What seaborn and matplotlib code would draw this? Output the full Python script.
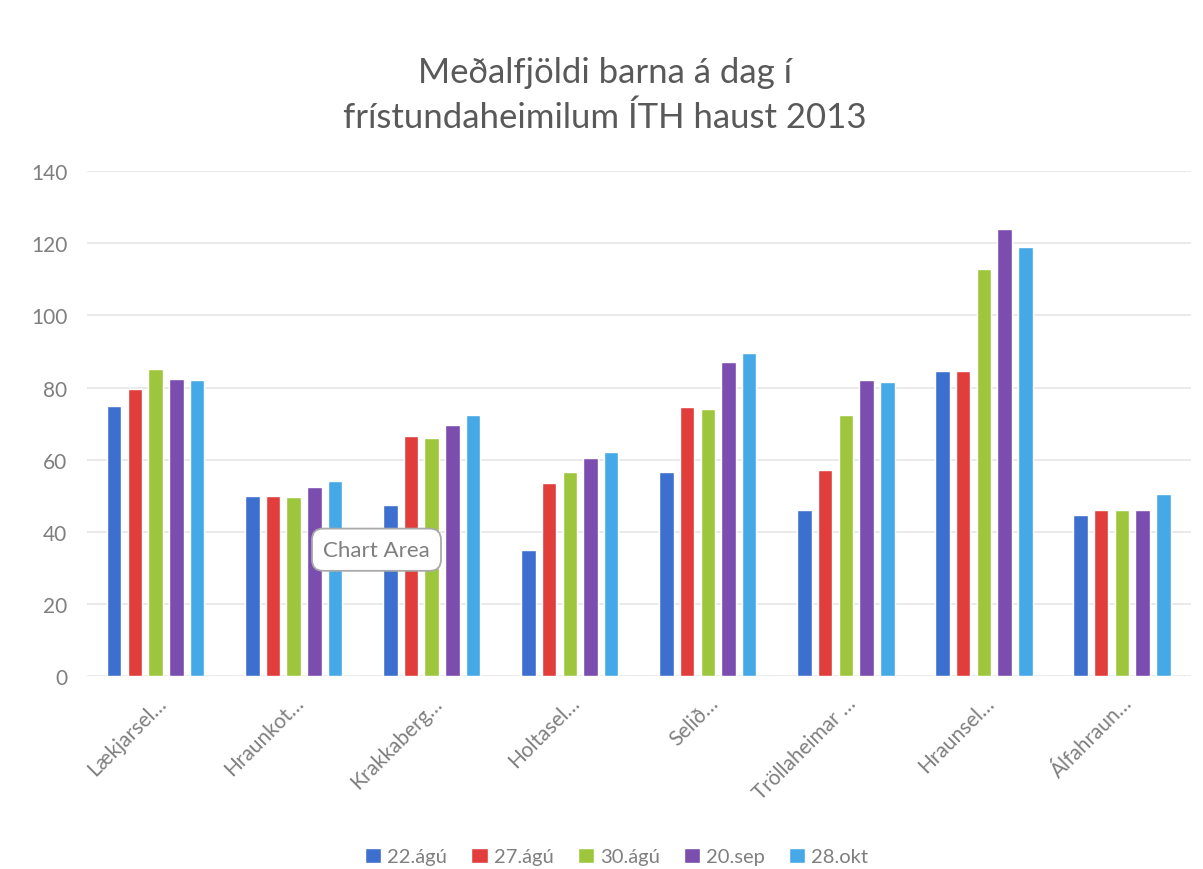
import pandas as pd
import matplotlib.pyplot as plt
import seaborn as sns

# ------------------------------
# DATA
# ------------------------------
stadir = ["Lækjarsel…", "Hraunkot…", "Krakkaberg…", "Holtasel…",
          "Selið…", "Tröllaheimar …", "Hraunsel…", "Álfahraun…"]
dagar = ["22.ágú", "27.ágú", "30.ágú", "20.sep", "28.okt"]

d_22agu = [75, 50, 47.5, 35, 56.5, 46, 84.5, 44.5]
d_27agu = [79.5, 50, 66.5, 53.5, 74.5, 57, 84.5, 46]
d_30agu = [85, 49.5, 66, 56.5, 74, 72.5, 113, 46]
d_20sep = [82.5, 52.5, 69.5, 60.5, 87, 82, 124, 46]
d_28okt = [82, 54, 72.5, 62, 89.5, 81.5, 119, 50.5]

litir = ["#3D6FCE", "#E03D3B", "#9DC63D", "#7B4DAF", "#45A9E7"]

df = pd.DataFrame({"stadur": stadir * 5,
                   "dagur": [d for d in dagar for _ in stadir],
                   "fjoldi": d_22agu + d_27agu + d_30agu + d_20sep + d_28okt})

# ------------------------------
# STYLE
# ------------------------------
sns.set_style("white")
plt.rcParams["font.family"] = ["Lato", "DejaVu Sans"]
grar = "#7F7F7F"

fig = plt.figure(figsize=(12.03, 8.7), dpi=100)
ax = fig.add_axes([0.072, 0.222, 0.918, 0.58])

sns.barplot(data=df, x="stadur", y="fjoldi", hue="dagur",
            palette=litir, width=0.75, gap=0.3, saturation=1,
            ax=ax, legend=True)

ax.set_ylim(0, 140)
ax.set_xlim(-0.5, 7.5)
ax.set_yticks(range(0, 141, 20))
ax.yaxis.grid(True, color="#E6E6E6", linewidth=1.2)
ax.set_axisbelow(True)
sns.despine(ax=ax, left=True, bottom=True)
ax.set_xlabel("")
ax.set_ylabel("")
ax.tick_params(axis="both", length=0, labelsize=15, labelcolor=grar)
ax.tick_params(axis="y", pad=14)
ax.tick_params(axis="x", pad=12)
plt.setp(ax.get_xticklabels(), rotation=45, ha="right", rotation_mode="anchor")

fig.text(0.503, 0.89, "Meðalfjöldi barna á dag í\nfrístundaheimilum ÍTH haust 2013",
         ha="center", va="center", fontsize=25, color="#595959", linespacing=1.45)

# tooltip left in the screenshot
ax.text(1.6, 35, "Chart Area", ha="center", va="center", fontsize=16, color=grar,
        bbox=dict(boxstyle="round,pad=0.5", fc="white", ec="#AAAAAA", lw=1.3))

ax.legend(loc="center", bbox_to_anchor=(0.48, -0.358), ncol=5, frameon=False,
          fontsize=14.5, labelcolor=grar, handlelength=0.8, handleheight=0.8,
          handletextpad=0.3, columnspacing=1.2)

fig.savefig("out.png", dpi=100, facecolor="white")
